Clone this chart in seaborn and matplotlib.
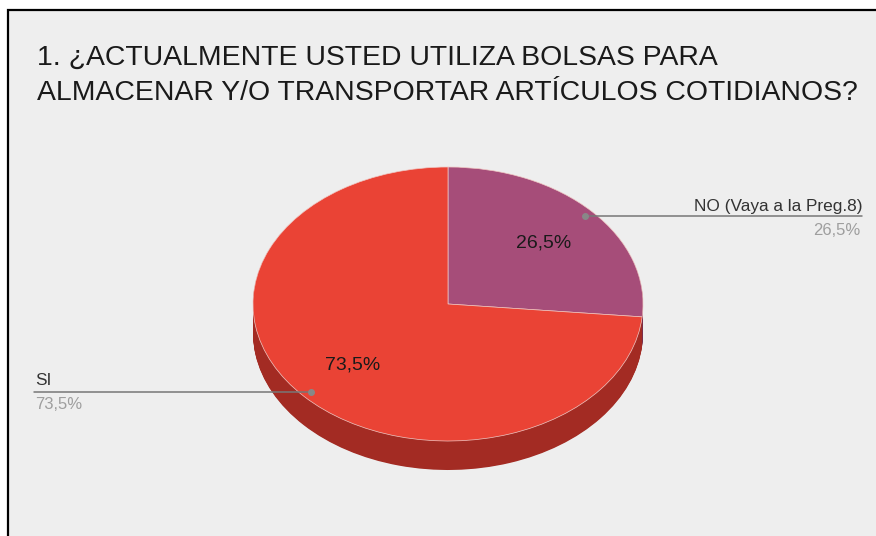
import numpy as np
import matplotlib
matplotlib.use("Agg")
import matplotlib.pyplot as plt
from matplotlib.patches import Rectangle
import seaborn as sns

# Data
labels = ['NO (Vaya a la Preg.8)', 'SI']
values = [26.5, 73.5]
title = '1. ¿ACTUALMENTE USTED UTILIZA BOLSAS PARA\nALMACENAR Y/O TRANSPORTAR ARTÍCULOS COTIDIANOS?'

top_colors = sns.color_palette(['#A64D79', '#EA4335'])
side_colors = sns.color_palette(['#76304F', '#A32B23'])

sns.set_style('white')
plt.rcParams['font.family'] = ['Liberation Sans', 'DejaVu Sans']

W, H = 876, 536
fig = plt.figure(figsize=(W / 100, H / 100), dpi=100)
fig.patch.set_facecolor('white')


def fx(px):
    return px / W


def fy(py):
    return 1 - py / H


# panel background with black frame on top / left
fig.patches.append(Rectangle((fx(8), -0.1), 1.2, fy(10) + 0.1, transform=fig.transFigure,
                             facecolor='#EEEEEE', edgecolor='black', linewidth=1.6, zorder=-10))

# pie axes: one unit = 195 px across, 137 px down (tilted look)
cx, cy, rx, ry = 448, 304, 195, 137
ax = fig.add_axes([0, 0, 1, 1])
ax.set_facecolor('none')

depth = 29 / ry
n_layers = 40
for k in range(n_layers, 0, -1):
    ax.pie(values, colors=side_colors, startangle=90, counterclock=False,
           center=(0, -depth * k / n_layers), wedgeprops=dict(linewidth=0))

fmt = lambda p: f'{p:.1f}%'.replace('.', ',')
wedges, _, autotexts = ax.pie(values, colors=top_colors, startangle=90, counterclock=False,
                              autopct=fmt, pctdistance=0.66,
                              wedgeprops=dict(linewidth=0.5, edgecolor='#F0C8C4'),
                              textprops=dict(fontsize=14, color='#1A1A1A'))

ax.set_aspect('auto')
ax.set_xlim(-cx / rx, (W - cx) / rx)
ax.set_ylim(-(H - cy) / ry, cy / ry)
ax.axis('off')

# leader lines
line_end_px = [862, 34]
for w, end in zip(wedges, line_end_px):
    ang = np.deg2rad((w.theta1 + w.theta2) / 2)
    x0, y0 = 0.95 * np.cos(ang), 0.95 * np.sin(ang)
    ax.plot([x0, (end - cx) / rx], [y0, y0], color='#777777', linewidth=1.1, zorder=5)
    ax.plot([x0], [y0], 'o', color='#888888', markersize=4, zorder=6)

# outside labels
fig.text(fx(862), fy(211), labels[0], ha='right', va='baseline', fontsize=12.4, color='#333333')
fig.text(fx(860), fy(235), fmt(values[0]), ha='right', va='baseline', fontsize=12, color='#9E9E9E')
fig.text(fx(35), fy(385), labels[1], ha='left', va='baseline', fontsize=12.4, color='#333333')
fig.text(fx(35), fy(409), fmt(values[1]), ha='left', va='baseline', fontsize=12, color='#9E9E9E')

# title
fig.text(fx(37), fy(65), title.split('\n')[0], ha='left', va='baseline', fontsize=20.4, color='#1A1A1A')
fig.text(fx(37), fy(100), title.split('\n')[1], ha='left', va='baseline', fontsize=20.4, color='#1A1A1A')

fig.savefig('out.png', dpi=100, facecolor=fig.get_facecolor())
